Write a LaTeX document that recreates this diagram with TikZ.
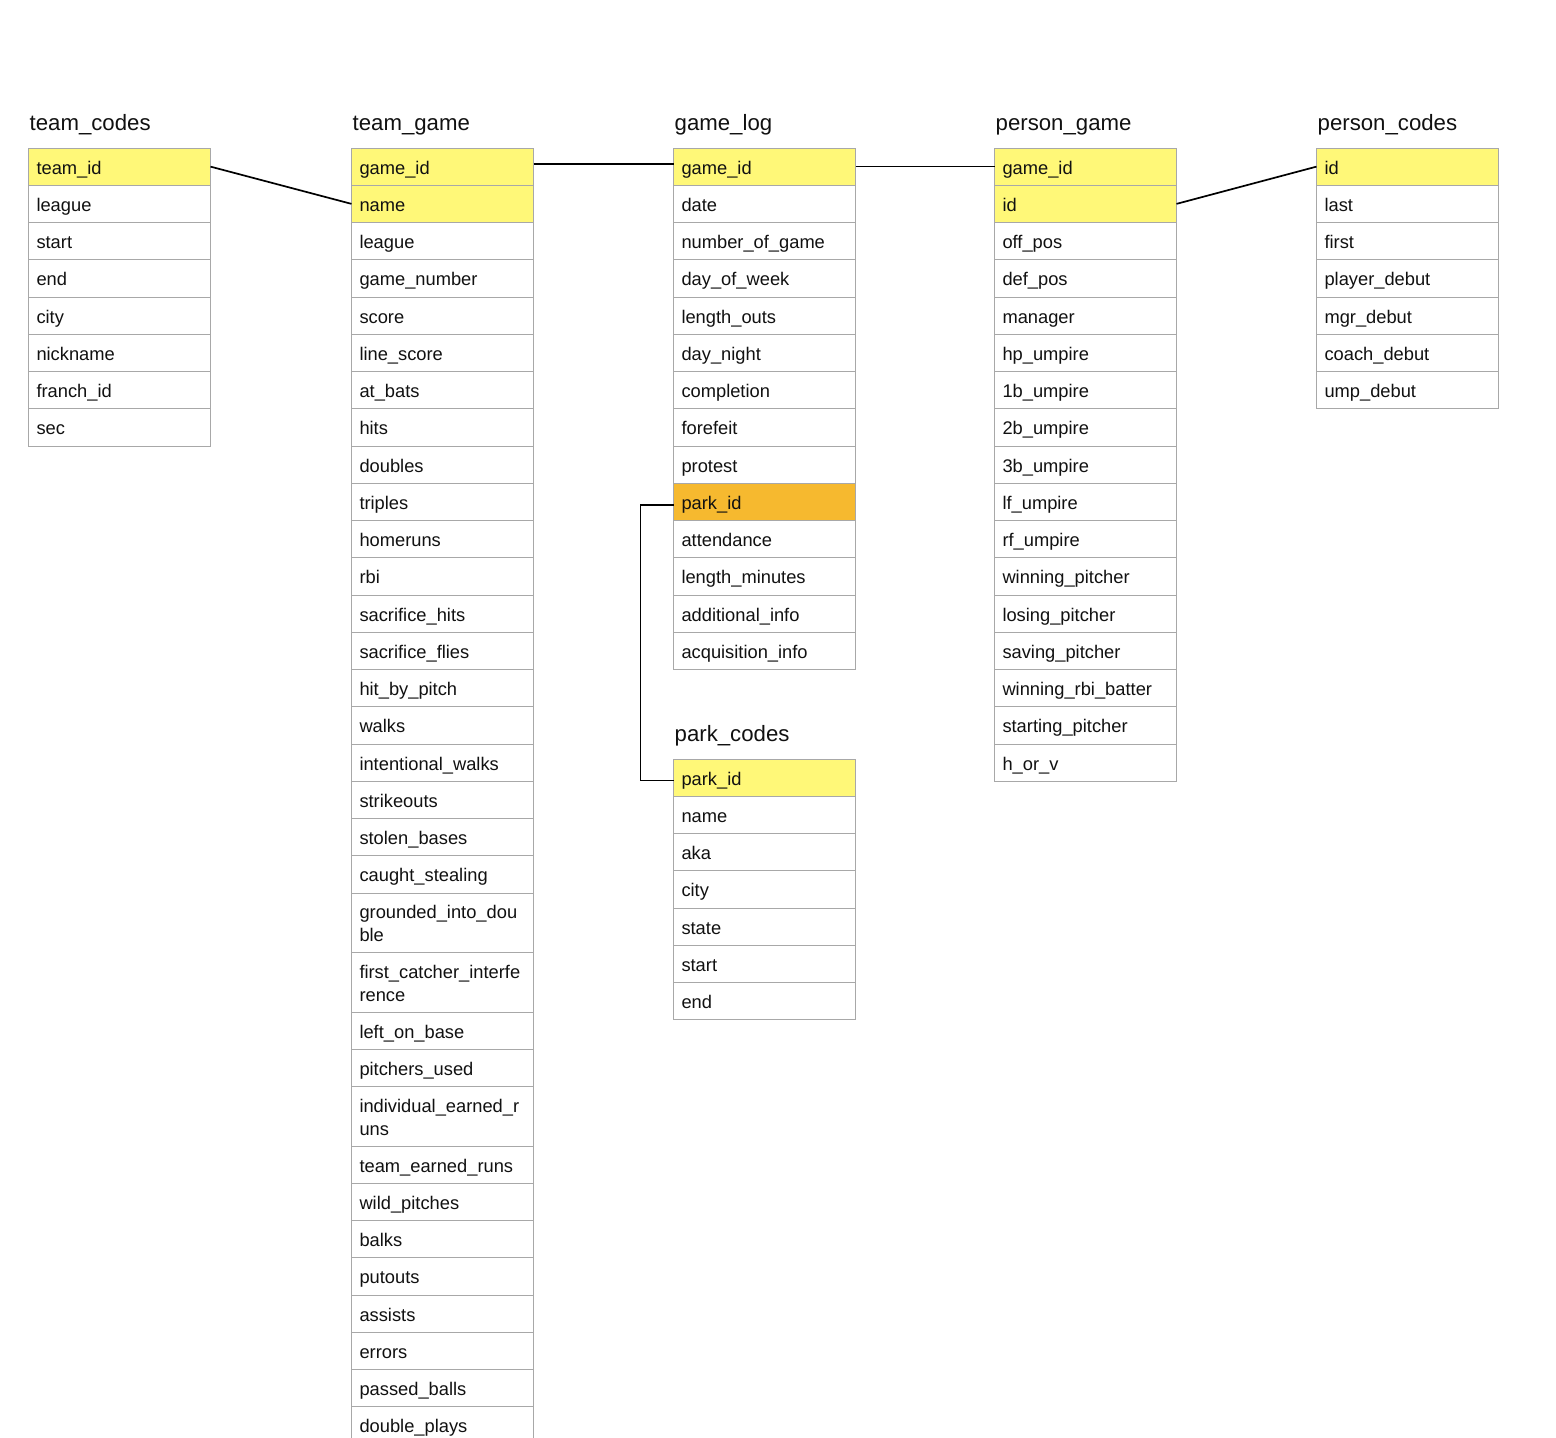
\documentclass[tikz,border=0pt]{standalone}
\usepackage{fontspec}
\setmainfont{Liberation Sans}
\definecolor{keyyellow}{RGB}{255,248,120}
\definecolor{fkorange}{RGB}{246,185,47}
\definecolor{rowline}{RGB}{168,168,168}
\definecolor{inkblack}{RGB}{17,17,17}
\tikzset{
  rowbox/.style={draw=rowline, line width=0.9pt, anchor=north west,
    minimum width=182pt, text width=166pt, inner xsep=8pt, inner ysep=0pt,
    outer sep=0pt, minimum height=37.25pt, text height=16pt, text depth=1pt,
    align=left, font=\fontsize{18.3}{23.4}\selectfont, text=inkblack},
  tabletitle/.style={anchor=base west, inner sep=0pt,
    font=\fontsize{22.2}{26}\selectfont, text=inkblack},
  link/.style={draw=black, line width=1.7pt},
}
\newcommand{\erdtable}[4]{%
  \foreach \t/\c/\h [count=\i, remember=\i as \j (initially 0)] in {#4} {
    \ifnum\i=1
      \node[rowbox, fill=\c, minimum height={37.25pt+22.25pt*(\h-1)},
        text depth={1pt+23.4pt*(\h-1)}] (#1\i) at (#2,#3) {\t};
    \else
      \node[rowbox, fill=\c, minimum height={37.25pt+22.25pt*(\h-1)},
        text depth={1pt+23.4pt*(\h-1)}] (#1\i) at (#1\j.south west) {\t};
    \fi
  }}
\begin{document}
\begin{tikzpicture}[x=1pt,y=-1pt]
\clip (0,0) rectangle (1556,1438);
\fill[white] (0,0) rectangle (1556,1438);

% titles
\node[tabletitle] (tcT) at (29.5,130.5) {team\_codes};
\node[tabletitle] (tgT) at (352.5,130.5) {team\_game};
\node[tabletitle] (glT) at (674.5,130.5) {game\_log};
\node[tabletitle] (pgT) at (995.5,130.5) {person\_game};
\node[tabletitle] (pcT) at (1317.5,130.5) {person\_codes};
\node[tabletitle] (pkT) at (674.5,741) {park\_codes};

% team_codes
\erdtable{tc}{28.5}{148}{team\_id/keyyellow/1, league/white/1, start/white/1,
  end/white/1, city/white/1, nickname/white/1, franch\_id/white/1, sec/white/1}

% team_game
\erdtable{tg}{351.5}{148}{game\_id/keyyellow/1, name/keyyellow/1, league/white/1,
  game\_number/white/1, score/white/1, line\_score/white/1, at\_bats/white/1,
  hits/white/1, doubles/white/1, triples/white/1, homeruns/white/1, rbi/white/1,
  sacrifice\_hits/white/1, sacrifice\_flies/white/1, hit\_by\_pitch/white/1,
  walks/white/1, intentional\_walks/white/1, strikeouts/white/1,
  stolen\_bases/white/1, caught\_stealing/white/1,
  grounded\_into\_dou\\ble/white/2, first\_catcher\_interfe\\rence/white/2,
  left\_on\_base/white/1, pitchers\_used/white/1,
  individual\_earned\_r\\uns/white/2, team\_earned\_runs/white/1,
  wild\_pitches/white/1, balks/white/1, putouts/white/1, assists/white/1,
  errors/white/1, passed\_balls/white/1, double\_plays/white/1}

% game_log
\erdtable{gl}{673.5}{148}{game\_id/keyyellow/1, date/white/1,
  number\_of\_game/white/1, day\_of\_week/white/1, length\_outs/white/1,
  day\_night/white/1, completion/white/1, forefeit/white/1, protest/white/1,
  park\_id/fkorange/1, attendance/white/1, length\_minutes/white/1,
  additional\_info/white/1, acquisition\_info/white/1}

% park_codes
\erdtable{pk}{673.5}{759}{park\_id/keyyellow/1, name/white/1, aka/white/1,
  city/white/1, state/white/1, start/white/1, end/white/1}

% person_game
\erdtable{pg}{994.5}{148}{game\_id/keyyellow/1, id/keyyellow/1, off\_pos/white/1,
  def\_pos/white/1, manager/white/1, hp\_umpire/white/1, 1b\_umpire/white/1,
  2b\_umpire/white/1, 3b\_umpire/white/1, lf\_umpire/white/1, rf\_umpire/white/1,
  winning\_pitcher/white/1, losing\_pitcher/white/1, saving\_pitcher/white/1,
  winning\_rbi\_batter/white/1, starting\_pitcher/white/1, h\_or\_v/white/1}

% person_codes
\erdtable{pc}{1316.5}{148}{id/keyyellow/1, last/white/1, first/white/1,
  player\_debut/white/1, mgr\_debut/white/1, coach\_debut/white/1,
  ump\_debut/white/1}

% connectors
\draw[link] (tc1.east) -- (tg2.west);
\draw[link] ([yshift=2.5pt]tg1.east) -- ([yshift=2.5pt]gl1.west);
\draw[link] (gl1.east) -- (pg1.west);
\draw[link] (pg2.east) -- (pc1.west);
\draw[link] ([yshift=-3pt]gl10.west) -- ([xshift=-33pt,yshift=-3pt]gl10.west)
  |- ([yshift=-3pt]pk1.west);
\end{tikzpicture}
\end{document}
